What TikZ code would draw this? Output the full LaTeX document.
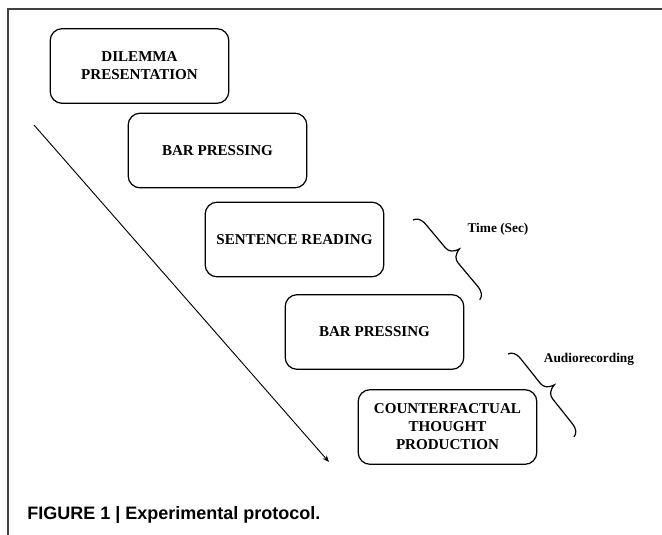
\documentclass[tikz,border=0pt]{standalone}
\usepackage{fontspec}
\setmainfont{Liberation Serif}
\newfontfamily\capfont{Liberation Sans}
\usetikzlibrary{arrows.meta}

\begin{document}
\begin{tikzpicture}[x=0.75pt,y=-0.75pt,
  stage/.style={draw,line width=0.9pt,rounded corners=9pt,minimum width=134pt,minimum height=56pt,
    align=center,font=\fontsize{11.3}{13.5}\selectfont\bfseries},
  lbl/.style={font=\fontsize{10}{12}\selectfont\bfseries},
  brc/.style={line width=0.9pt}]
\useasboundingbox (0,0) rectangle (662,535);
\draw[line width=0.8pt,black!75] (8,545) -- (8,9) -- (670,9);
% the five steps
\node[stage] (dil) at (139.5,66) {DILEMMA\\PRESENTATION};
\node[stage] (bar1) at (217.5,150.5) {BAR PRESSING};
\node[stage] (sent) at (294.5,239.5) {SENTENCE READING};
\node[stage] (bar2) at (374.5,332) {BAR PRESSING};
\node[stage] (cft) at (447.5,427) {COUNTERFACTUAL\\THOUGHT\\PRODUCTION};
% time axis
\coordinate (ts) at (34,125);
\coordinate (te) at (329,462);
\draw[-{Stealth[length=5pt,width=4pt]},line width=0.7pt] (ts) -- (te);
% braces, drawn along t1-t2 and a1-a2
\coordinate (t1) at (413,220);
\coordinate (a1) at (508,354);
\draw[brc,shift={(t1)},rotate=-50.05] (0,0) .. controls (1,-4) and (4,-7) .. (12,-7) -- (42,-7)
  .. controls (47,-7) and (50.5,-10) .. (52,-17) .. controls (53.5,-10) and (57,-7) .. (62,-7)
  -- (92,-7) .. controls (100,-7) and (103,-4) .. (104,0) coordinate (t2);
\node[lbl] (time) at (498,229) {Time (Sec)};
\draw[brc,shift={(a1)},rotate=-51.5] (0,0) .. controls (1,-4) and (4,-7) .. (12,-7) -- (43,-7)
  .. controls (48,-7) and (51.5,-10) .. (53,-17) .. controls (54.5,-10) and (58,-7) .. (63,-7)
  -- (94,-7) .. controls (102,-7) and (105,-4) .. (106,0) coordinate (a2);
\node[lbl] (audio) at (589,359) {Audiorecording};
% caption
\node[anchor=base west,inner sep=0pt] (cap) at (27,519)
  {\capfont\bfseries\fontsize{13.5}{15}\selectfont FIGURE 1 | Experimental protocol.};
\end{tikzpicture}
\end{document}
